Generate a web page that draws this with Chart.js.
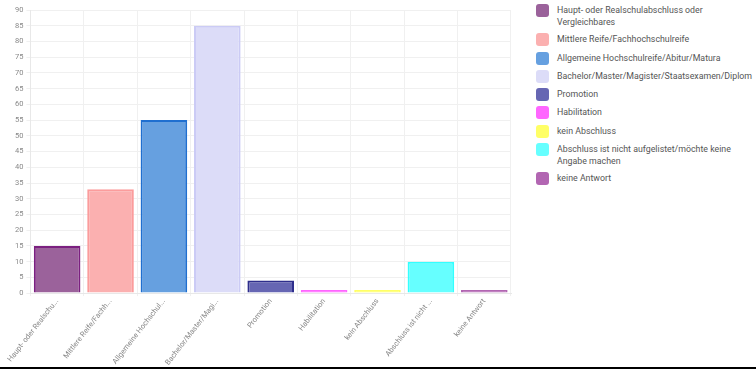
<!DOCTYPE html>
<html><head><meta charset="utf-8">
<script src="https://cdn.jsdelivr.net/npm/chart.js@4.4.1/dist/chart.umd.min.js"></script>
<style>
html,body{margin:0;padding:0;background:#fff;}
#wrap{position:relative;width:756px;height:370px;overflow:hidden;}
#box{position:absolute;left:0;top:0;width:515px;height:370px;}
#legend{position:absolute;left:536px;top:4px;width:215px;font-family:Roboto,"Noto Sans",sans-serif;font-size:8.8px;color:#555;}
.li{display:flex;align-items:flex-start;margin-bottom:5.25px;}
.sw{width:13px;height:13px;border-radius:3px;flex:none;margin-right:8px;}
.tx{line-height:12px;}
#rule{position:absolute;left:0;top:367px;width:756px;height:2px;background:#000;}
</style></head><body>
<div id="wrap">
<div id="box"><canvas id="c"></canvas></div>
<div id="legend"></div>
<div id="rule"></div>
</div>
<script>
const categories = [
  "Haupt- oder Realschulabschluss oder Vergleichbares",
  "Mittlere Reife/Fachhochschulreife",
  "Allgemeine Hochschulreife/Abitur/Matura",
  "Bachelor/Master/Magister/Staatsexamen/Diplom",
  "Promotion",
  "Habilitation",
  "kein Abschluss",
  "Abschluss ist nicht aufgelistet/möchte keine Angabe machen",
  "keine Antwort"
];
const values = [15, 33, 55, 85, 4, 0, 0, 10, 0];
const fillColors = ["#9b629b","#fbb0b0","#66a0e0","#dcdcf8","#6666b3","#ff66ff","#ffff66","#66ffff","#b266b2"];
const borderColors = ["#7b2080","#fb9c9c","#1f6fd0","#cbcbf5","#2e2e8c","#ff66ff","#ffff66","#33ffff","#b266b2"];
const yTicks = [0,5,10,15,20,25,30,35,40,45,50,55,60,65,70,75,80,85,90];

const leg = document.getElementById('legend');
categories.forEach((c,i)=>{
  const d=document.createElement('div');d.className='li';
  d.innerHTML='<div class="sw" style="background:'+fillColors[i]+'"></div><div class="tx"></div>';
  d.querySelector('.tx').textContent=c;
  leg.appendChild(d);
});

new Chart(document.getElementById('c'), {
  type: 'bar',
  data: {
    labels: categories,
    datasets: [{
      data: values,
      backgroundColor: fillColors,
      borderColor: borderColors,
      borderWidth: 2,
      minBarLength: 3,
      barPercentage: 0.9,
      categoryPercentage: 0.97
    }]
  },
  options: {
    responsive: true,
    maintainAspectRatio: false,
    animation: false,
    layout: { padding: { top: 10, right: 4, left: 12, bottom: 2 } },
    plugins: { legend: { display: false }, tooltip: { enabled: false } },
    scales: {
      x: {
        grid: { color: '#f0f0f0', tickLength: 3 },
        border: { color: '#e8e8e8' },
        ticks: {
          color: '#888', font: { family: 'Roboto', size: 7.5 }, padding: 1,
          minRotation: 52, maxRotation: 52, autoSkip: false,
          callback: function(v){ const s = categories[v]; return s.length > 20 ? s.slice(0,20) + '...' : s; }
        }
      },
      y: {
        min: 0, max: 90,
        afterBuildTicks: (ax)=>{ ax.ticks = yTicks.map(v=>({value:v})); },
        grid: { color: '#f0f0f0', tickLength: 4 },
        border: { color: '#e8e8e8' },
        ticks: { color: '#888', font: { family: 'Roboto', size: 7.5 }, padding: 3 }
      }
    }
  }
});
</script>
</body></html>
